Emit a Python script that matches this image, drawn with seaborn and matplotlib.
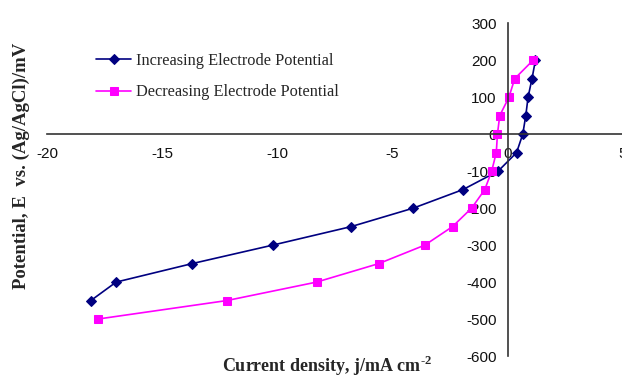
import matplotlib
matplotlib.use("Agg")
import matplotlib.pyplot as plt
import seaborn as sns
import pandas as pd

# Increasing electrode potential (navy diamonds)
inc_j = [1.2, 1.05, 0.88, 0.78, 0.65, 0.38, -0.42, -1.95, -4.1, -6.8, -10.2, -13.7, -17.0, -18.1]
inc_E = [200, 150, 100, 50, 0, -50, -100, -150, -200, -250, -300, -350, -400, -450]
# Decreasing electrode potential (magenta squares)
dec_j = [1.1, 0.3, 0.05, -0.35, -0.45, -0.5, -0.7, -1.0, -1.57, -2.4, -3.6, -5.6, -8.3, -12.2, -17.8]
dec_E = [200, 150, 100, 50, 0, -50, -100, -150, -200, -250, -300, -350, -400, -450, -500]

x_ticks = [-20, -15, -10, -5, 0, 5]
y_ticks = [-600, -500, -400, -300, -200, -100, 0, 100, 200, 300]

sns.set_theme(style="white")
plt.rcParams['font.family'] = ['Liberation Sans', 'DejaVu Sans']
plt.rcParams['axes.unicode_minus'] = False
plt.rcParams['mathtext.fontset'] = 'custom'
plt.rcParams['mathtext.rm'] = 'Liberation Serif:bold'
plt.rcParams['mathtext.bf'] = 'Liberation Serif:bold'

fig = plt.figure(figsize=(6.22, 3.80), dpi=100)
ax = fig.add_axes([0.0756, 0.063, 0.926, 0.876])

df_inc = pd.DataFrame({"j": inc_j, "E": inc_E})
df_dec = pd.DataFrame({"j": dec_j, "E": dec_E})

sns.lineplot(data=df_inc, x="j", y="E", sort=False, ax=ax, color="#000080",
             marker="D", markersize=5.5, markeredgecolor="#000080", linewidth=1.2,
             label="Increasing Electrode Potential")
sns.lineplot(data=df_dec, x="j", y="E", sort=False, ax=ax, color="#FF00FF",
             marker="s", markersize=6, markeredgecolor="#FF00FF", linewidth=1.2,
             label="Decreasing Electrode Potential")

ax.set_xlim(-20, 5)
ax.set_ylim(-600, 300)
ax.set_xticks(x_ticks)
ax.set_yticks(y_ticks)

for s in ["top", "right"]:
    ax.spines[s].set_visible(False)
ax.spines["left"].set_position(("data", 0))
ax.spines["bottom"].set_position(("data", 0))
for s in ["left", "bottom"]:
    ax.spines[s].set_color("#333333")
    ax.spines[s].set_linewidth(1.2)

ax.tick_params(axis="both", which="major", length=4, width=1, color="#333333",
               labelsize=11, labelcolor="#111111", direction="out")
ax.tick_params(axis="x", pad=5)
ax.tick_params(axis="y", pad=4)
ax.grid(False)

ax.set_xlabel("")
ax.set_ylabel("")
fig.text(0.526, 0.036, "Current density, j/mA cm$^{\\text{-2}}$", ha="center", va="center",
         fontsize=13, fontweight="bold", family="Liberation Serif")
fig.text(0.034, 0.563, "Potential, E  vs. (Ag/AgCl)/mV", ha="center", va="center",
         rotation=90, fontsize=13.5, fontweight="bold", family="Liberation Serif")

leg = ax.legend(loc="upper left", bbox_to_anchor=(0.06, 0.955), frameon=False,
                prop={"family": "Liberation Serif", "size": 11.8},
                handlelength=2.1, labelspacing=0.95, handletextpad=0.3)

fig.savefig("out.png", dpi=100)
